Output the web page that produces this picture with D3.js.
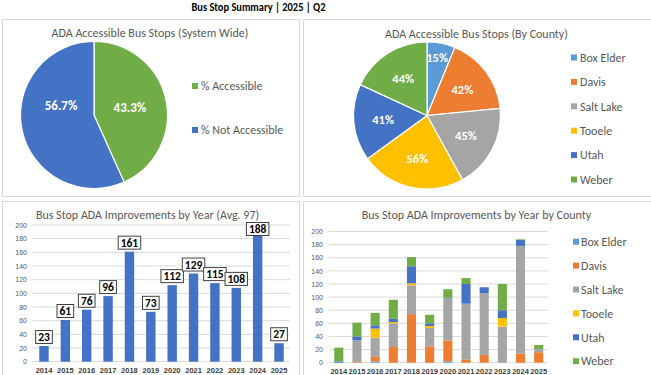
<!DOCTYPE html>
<html><head><meta charset="utf-8">
<script src="https://cdn.jsdelivr.net/npm/d3@7"></script>
<style>
html,body{margin:0;padding:0;background:#fff;}
svg{display:block;font-family:Carlito, Lato, "Open Sans", sans-serif;}
</style></head>
<body>
<svg id="c" width="651" height="375"></svg>
<script>
// ---------- DATA ----------
const mainTitle = "Bus Stop Summary | 2025 | Q2";
const sysLabels = ["% Accessible", "% Not Accessible"];
const sysValues = [43.3, 56.7];
const counties = ["Box Elder", "Davis", "Salt Lake", "Tooele", "Utah", "Weber"];
const countyPct = [15, 42, 45, 56, 41, 44];
const years = ["2014","2015","2016","2017","2018","2019","2020","2021","2022","2023","2024","2025"];
const yearTotals = [23, 61, 76, 96, 161, 73, 112, 129, 115, 108, 188, 27];
const boxElder = [0, 0, 2, 0, 0, 0, 2, 0, 0, 0, 0, 0];
const davis    = [0, 1, 7, 24, 74, 25, 32, 5, 12, 0, 14, 16];
const saltLake = [0, 33, 29, 36, 44, 28, 64, 85, 94, 55, 164, 5];
const tooele   = [0, 0, 14, 2, 3, 3, 0, 0, 0, 13, 0, 0];
const utah     = [2, 6, 5, 5, 26, 4, 1, 30, 9, 12, 9, 0];
const weber    = [21, 21, 19, 29, 14, 13, 13, 9, 0, 40, 1, 6];
const yTicks = [0,20,40,60,80,100,120,140,160,180,200];

// ---------- STYLE ----------
const sysColors = ["#70AD47", "#4472C4"];
const countyColors = ["#5B9BD5", "#ED7D31", "#A5A5A5", "#FFC000", "#4472C4", "#70AD47"];
const txtGray = "#595959";
const gridCol = "#D9D9D9";

const svg = d3.select("#c");

// panels
const panels = [
  {x:2.5, y:19.5, w:297, h:177},
  {x:303.5, y:19.5, w:360, h:177},
  {x:2.5, y:201.5, w:297, h:190},
  {x:303.5, y:201.5, w:360, h:190}
];
svg.selectAll("rect.panel").data(panels).join("rect")
  .attr("class","panel")
  .attr("x", d=>d.x).attr("y", d=>d.y).attr("width", d=>d.w).attr("height", d=>d.h)
  .attr("fill","#fff").attr("stroke", gridCol).attr("stroke-width",1);

svg.append("text").attr("x", 258.5).attr("y", 10.5).attr("text-anchor","middle")
  .attr("font-size", 12).attr("font-weight","bold").attr("fill","#000")
  .attr("textLength", 134).attr("lengthAdjust","spacingAndGlyphs").text(mainTitle);

function title(x, y, t) {
  svg.append("text").attr("x", x).attr("y", y).attr("text-anchor","middle")
    .attr("font-size", 12).attr("fill", txtGray).text(t);
}

// ---------- PIE 1 ----------
title(150, 37, "ADA Accessible Bus Stops (System Wide)");
{
  const cx = 94, cy = 115, R = 73.5;
  const pie = d3.pie().sort(null).value(d=>d)(sysValues);
  const arc = d3.arc().innerRadius(0).outerRadius(R);
  const g = svg.append("g").attr("transform", `translate(${cx},${cy})`);
  g.selectAll("path").data(pie).join("path").attr("d", arc)
    .attr("fill", (d,i)=>sysColors[i]).attr("stroke","#fff").attr("stroke-width",1.2);
  const labArc = d3.arc().innerRadius(R*0.5).outerRadius(R*0.5);
  const nudge = [[0,0],[3,-17]];
  g.selectAll("text").data(pie).join("text")
    .attr("x", (d,i)=>labArc.centroid(d)[0] + nudge[i][0])
    .attr("y", (d,i)=>labArc.centroid(d)[1] + nudge[i][1])
    .attr("dy","0.35em").attr("text-anchor","middle")
    .attr("font-size", 13).attr("font-weight","bold").attr("fill","#fff")
    .text(d=>d.data.toFixed(1) + "%");
  const lg = svg.append("g");
  sysLabels.forEach((l,i)=>{
    const y = 86 + i*44;
    lg.append("rect").attr("x", 192).attr("y", y-3).attr("width",6).attr("height",6).attr("fill", sysColors[i]);
    lg.append("text").attr("x", 201).attr("y", y).attr("dy","0.35em")
      .attr("font-size", 12).attr("fill", txtGray).text(l);
  });
}

// ---------- PIE 2 ----------
title(476.5, 38, "ADA Accessible Bus Stops (By County)");
{
  const cx = 427, cy = 115.5, R = 73.5;
  const pie = d3.pie().sort(null).value(d=>d)(countyPct);
  const arc = d3.arc().innerRadius(0).outerRadius(R);
  const g = svg.append("g").attr("transform", `translate(${cx},${cy})`);
  g.selectAll("path").data(pie).join("path").attr("d", arc)
    .attr("fill", (d,i)=>countyColors[i]).attr("stroke","#fff").attr("stroke-width",1.2);
  g.selectAll("text").data(pie).join("text")
    .each(function(d){
      const small = (d.endAngle - d.startAngle) < 0.6;
      const r = small ? R*0.8 : R*0.6;
      const a = (d.startAngle + d.endAngle)/2 - (small ? 0.02 : 0);
      d3.select(this).attr("x", Math.sin(a)*r).attr("y", -Math.cos(a)*r);
    })
    .attr("dy","0.35em").attr("text-anchor","middle")
    .attr("font-size", 12.5).attr("font-weight","bold").attr("fill","#fff")
    .text(d=>d.data + "%");
  const lg = svg.append("g");
  counties.forEach((l,i)=>{
    const y = 57.5 + i*24.4;
    lg.append("rect").attr("x", 571).attr("y", y-3).attr("width",6).attr("height",6).attr("fill", countyColors[i]);
    lg.append("text").attr("x", 580).attr("y", y).attr("dy","0.35em")
      .attr("font-size", 12).attr("fill", txtGray).text(l);
  });
}

// ---------- BAR (totals) ----------
title(147.5, 219, "Bus Stop ADA Improvements by Year (Avg. 97)");
{
  const x = d3.scaleBand().domain(years).range([33.3, 289.7]).paddingInner(0.56).paddingOuter(0.28);
  const y = d3.scaleLinear().domain([0,200]).range([361.7, 225]);
  const g = svg.append("g");
  g.selectAll("line.grid").data(yTicks).join("line").attr("class","grid")
    .attr("x1", 32).attr("x2", 290).attr("y1", d=>y(d)).attr("y2", d=>y(d))
    .attr("stroke", gridCol).attr("stroke-width", 1);
  const ya = g.append("g").attr("transform","translate(31,0)")
    .call(d3.axisLeft(y).tickValues(yTicks).tickSize(0).tickPadding(4));
  ya.select(".domain").remove();
  ya.selectAll("text").attr("font-size", 7).attr("fill", txtGray).attr("font-family", null);
  const xa = g.append("g").attr("transform", `translate(0,${y(0)})`)
    .call(d3.axisBottom(x).tickSize(0).tickPadding(6));
  xa.select(".domain").remove();
  xa.selectAll("text").attr("font-size", 7.5).attr("font-weight","bold").attr("fill", "#404040").attr("font-family", null);
  g.selectAll("rect.bar").data(yearTotals).join("rect").attr("class","bar")
    .attr("x", (d,i)=>x(years[i])).attr("width", x.bandwidth())
    .attr("y", d=>y(d)).attr("height", d=>y(0)-y(d)).attr("fill", "#4472C4");
  const topLimit = y(200) + 4;
  const lab = g.selectAll("g.lab").data(yearTotals).join("g").attr("class","lab")
    .attr("transform", (d,i)=>`translate(${x(years[i]) + x.bandwidth()/2},${Math.max(y(d) - 9, topLimit)})`);
  lab.append("text").attr("text-anchor","middle").attr("dy","0.36em")
    .attr("font-size", 11.5).attr("font-weight","bold").attr("fill","#000").text(d=>d)
    .each(function(){
      const w = this.getComputedTextLength();
      d3.select(this.parentNode).insert("rect","text")
        .attr("x", -w/2 - 2.5).attr("y", -6.5).attr("width", w + 5).attr("height", 13)
        .attr("fill","#fff").attr("stroke","#404040").attr("stroke-width",1);
    });
}

// ---------- STACKED BAR ----------
title(476.5, 219, "Bus Stop ADA Improvements by Year by County");
{
  const series = [boxElder, davis, saltLake, tooele, utah, weber];
  const rows = years.map((yr,i)=>{
    const o = {year: yr};
    counties.forEach((c,k)=>{ o[c] = series[k][i]; });
    return o;
  });
  const stack = d3.stack().keys(counties)(rows);
  const x = d3.scaleBand().domain(years).range([329.7, 547.8]).paddingInner(0.5).paddingOuter(0.25);
  const y = d3.scaleLinear().domain([0,200]).range([362.7, 231.5]);
  const g = svg.append("g");
  g.selectAll("line.grid").data(yTicks).join("line").attr("class","grid")
    .attr("x1", 329).attr("x2", 548).attr("y1", d=>y(d)).attr("y2", d=>y(d))
    .attr("stroke", gridCol).attr("stroke-width", 1);
  const ya = g.append("g").attr("transform","translate(327,0)")
    .call(d3.axisLeft(y).tickValues(yTicks).tickSize(0).tickPadding(4));
  ya.select(".domain").remove();
  ya.selectAll("text").attr("font-size", 7).attr("fill", txtGray).attr("font-family", null);
  const xa = g.append("g").attr("transform", `translate(0,${y(0)})`)
    .call(d3.axisBottom(x).tickSize(0).tickPadding(6));
  xa.select(".domain").remove();
  xa.selectAll("text").attr("font-size", 7.5).attr("font-weight","bold").attr("fill", "#404040").attr("font-family", null);
  g.selectAll("g.ser").data(stack).join("g").attr("class","ser")
    .attr("fill", (d,i)=>countyColors[i])
    .selectAll("rect").data(d=>d).join("rect")
    .attr("x", d=>x(d.data.year)).attr("width", x.bandwidth())
    .attr("y", d=>y(d[1])).attr("height", d=>y(d[0]) - y(d[1]));
  const lg = svg.append("g");
  counties.forEach((l,i)=>{
    const y0 = 241.7 + i*23.9;
    lg.append("rect").attr("x", 573).attr("y", y0-3).attr("width",6).attr("height",6).attr("fill", countyColors[i]);
    lg.append("text").attr("x", 581).attr("y", y0).attr("dy","0.35em")
      .attr("font-size", 12).attr("fill", txtGray).text(l);
  });
}
</script>
</body></html>
